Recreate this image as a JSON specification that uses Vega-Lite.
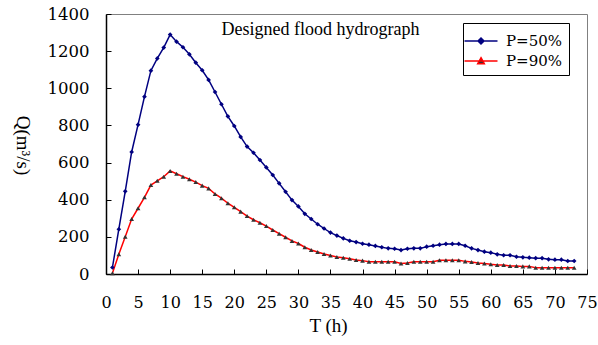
{
  "$schema": "https://vega.github.io/schema/vega-lite/v6.json",
  "width": 481,
  "height": 260,
  "autosize": {"type": "none"},
  "padding": {"left": 106, "top": 14, "right": 11, "bottom": 71},
  "background": "white",
  "title": {
    "text": "Designed flood hydrograph",
    "font": "Liberation Serif",
    "fontSize": 18,
    "fontWeight": "normal",
    "color": "black",
    "anchor": "middle",
    "frame": "group",
    "baseline": "alphabetic",
    "offset": -47,
    "dx": -26
  },
  "config": {
    "font": "Liberation Serif",
    "view": {"stroke": "#808080", "strokeWidth": 1},
    "axis": {
      "labelFont": "DejaVu Serif",
      "labelFontSize": 16.5,
      "labelColor": "black",
      "labelOverlap": false,
      "labelFlush": false,
      "titleFont": "Liberation Serif",
      "titleFontSize": 19,
      "titleFontWeight": "normal",
      "titleColor": "black",
      "domainColor": "black",
      "domainWidth": 1.5,
      "tickColor": "black",
      "tickWidth": 1,
      "tickSize": -5,
      "grid": false
    },
    "legend": {
      "labelFont": "DejaVu Serif",
      "labelFontSize": 15,
      "labelColor": "black"
    }
  },
  "data": {
    "values": [
      {"t": 1, "P=50%": 35, "P=90%": 4},
      {"t": 2, "P=50%": 241, "P=90%": 106},
      {"t": 3, "P=50%": 445, "P=90%": 201},
      {"t": 4, "P=50%": 657, "P=90%": 296},
      {"t": 5, "P=50%": 804, "P=90%": 354},
      {"t": 6, "P=50%": 955, "P=90%": 413},
      {"t": 7, "P=50%": 1095, "P=90%": 479},
      {"t": 8, "P=50%": 1161, "P=90%": 502},
      {"t": 9, "P=50%": 1219, "P=90%": 524},
      {"t": 10, "P=50%": 1289, "P=90%": 555},
      {"t": 11, "P=50%": 1251, "P=90%": 540},
      {"t": 12, "P=50%": 1221, "P=90%": 524},
      {"t": 13, "P=50%": 1183, "P=90%": 510},
      {"t": 14, "P=50%": 1138, "P=90%": 495},
      {"t": 15, "P=50%": 1097, "P=90%": 476},
      {"t": 16, "P=50%": 1045, "P=90%": 461},
      {"t": 17, "P=50%": 980, "P=90%": 431},
      {"t": 18, "P=50%": 914, "P=90%": 408},
      {"t": 19, "P=50%": 849, "P=90%": 381},
      {"t": 20, "P=50%": 797, "P=90%": 359},
      {"t": 21, "P=50%": 738, "P=90%": 336},
      {"t": 22, "P=50%": 686, "P=90%": 312},
      {"t": 23, "P=50%": 653, "P=90%": 292},
      {"t": 24, "P=50%": 614, "P=90%": 276},
      {"t": 25, "P=50%": 574, "P=90%": 258},
      {"t": 26, "P=50%": 533, "P=90%": 237},
      {"t": 27, "P=50%": 488, "P=90%": 217},
      {"t": 28, "P=50%": 443, "P=90%": 198},
      {"t": 29, "P=50%": 398, "P=90%": 178},
      {"t": 30, "P=50%": 364, "P=90%": 164},
      {"t": 31, "P=50%": 324, "P=90%": 144},
      {"t": 32, "P=50%": 296, "P=90%": 129},
      {"t": 33, "P=50%": 268, "P=90%": 118},
      {"t": 34, "P=50%": 245, "P=90%": 108},
      {"t": 35, "P=50%": 223, "P=90%": 100},
      {"t": 36, "P=50%": 207, "P=90%": 92},
      {"t": 37, "P=50%": 192, "P=90%": 88},
      {"t": 38, "P=50%": 179, "P=90%": 82},
      {"t": 39, "P=50%": 172, "P=90%": 75},
      {"t": 40, "P=50%": 163, "P=90%": 72},
      {"t": 41, "P=50%": 158, "P=90%": 66},
      {"t": 42, "P=50%": 151, "P=90%": 66},
      {"t": 43, "P=50%": 144, "P=90%": 66},
      {"t": 44, "P=50%": 138, "P=90%": 66},
      {"t": 45, "P=50%": 136, "P=90%": 66},
      {"t": 46, "P=50%": 129, "P=90%": 57},
      {"t": 47, "P=50%": 136, "P=90%": 59},
      {"t": 48, "P=50%": 138, "P=90%": 66},
      {"t": 49, "P=50%": 138, "P=90%": 66},
      {"t": 50, "P=50%": 147, "P=90%": 66},
      {"t": 51, "P=50%": 152, "P=90%": 66},
      {"t": 52, "P=50%": 158, "P=90%": 74},
      {"t": 53, "P=50%": 162, "P=90%": 74},
      {"t": 54, "P=50%": 162, "P=90%": 74},
      {"t": 55, "P=50%": 162, "P=90%": 74},
      {"t": 56, "P=50%": 152, "P=90%": 68},
      {"t": 57, "P=50%": 138, "P=90%": 65},
      {"t": 58, "P=50%": 129, "P=90%": 59},
      {"t": 59, "P=50%": 120, "P=90%": 57},
      {"t": 60, "P=50%": 115, "P=90%": 52},
      {"t": 61, "P=50%": 106, "P=90%": 48},
      {"t": 62, "P=50%": 101, "P=90%": 48},
      {"t": 63, "P=50%": 101, "P=90%": 43},
      {"t": 64, "P=50%": 93, "P=90%": 43},
      {"t": 65, "P=50%": 90, "P=90%": 41},
      {"t": 66, "P=50%": 88, "P=90%": 41},
      {"t": 67, "P=50%": 85, "P=90%": 34},
      {"t": 68, "P=50%": 85, "P=90%": 34},
      {"t": 69, "P=50%": 79, "P=90%": 34},
      {"t": 70, "P=50%": 77, "P=90%": 34},
      {"t": 71, "P=50%": 77, "P=90%": 34},
      {"t": 72, "P=50%": 70, "P=90%": 34},
      {"t": 73, "P=50%": 70, "P=90%": 34}
    ]
  },
  "transform": [{"fold": ["P=50%", "P=90%"], "as": ["series", "Q"]}],
  "encoding": {
    "x": {
      "field": "t",
      "type": "quantitative",
      "scale": {"domain": [0, 75], "nice": false},
      "axis": {
        "values": [0, 5, 10, 15, 20, 25, 30, 35, 40, 45, 50, 55, 60, 65, 70, 75],
        "format": "d",
        "labelFontSize": 16,
        "labelPadding": 25,
        "title": "T (h)",
        "titleX": 222,
        "titleY": 51,
        "titleBaseline": "middle",
        "titleAlign": "center"
      }
    },
    "y": {
      "field": "Q",
      "type": "quantitative",
      "scale": {"domain": [0, 1400], "nice": false},
      "axis": {
        "values": [0, 200, 400, 600, 800, 1000, 1200, 1400],
        "format": "d",
        "labelPadding": 22,
        "title": "Q(m³/s)",
        "titleX": -84,
        "titleY": 131,
        "titleAngle": 90,
        "titleBaseline": "middle",
        "titleAlign": "center"
      }
    }
  },
  "layer": [
    {
      "mark": {"type": "line", "strokeWidth": 1.5},
      "encoding": {
        "stroke": {
          "field": "series",
          "type": "nominal",
          "scale": {"domain": ["P=50%", "P=90%"], "range": ["#000080", "#ff0000"]},
          "legend": {
            "title": null,
            "orient": "none",
            "legendX": 357,
            "legendY": 9,
            "strokeColor": "black",
            "padding": 6,
            "symbolSize": 484,
            "rowPadding": 0,
            "labelOffset": 13,
            "encode": {
              "symbols": {
                "update": {
                  "shape": {"signal": "datum.value === 'P=50%' ? 'M-1.5,0H1.5M0,-0.27L0.27,0L0,0.27L-0.27,0Z' : 'M-1.5,0H1.5M0,-0.3L0.3,0.24L-0.3,0.24Z'"},
                  "fill": {"signal": "datum.value === 'P=50%' ? '#000080' : '#333333'"},
                  "stroke": {"signal": "datum.value === 'P=50%' ? '#000080' : '#ff0000'"},
                  "strokeWidth": {"value": 1.5}
                }
              }
            }
          }
        }
      }
    },
    {
      "transform": [{"filter": "datum.series === 'P=50%'"}],
      "mark": {"type": "point", "filled": true, "size": 22, "opacity": 1, "shape": "diamond", "color": "#000080"}
    },
    {
      "transform": [{"filter": "datum.series === 'P=90%'"}],
      "mark": {"type": "point", "filled": true, "size": 22, "opacity": 1, "shape": "triangle-up", "color": "#333333"}
    }
  ]
}
